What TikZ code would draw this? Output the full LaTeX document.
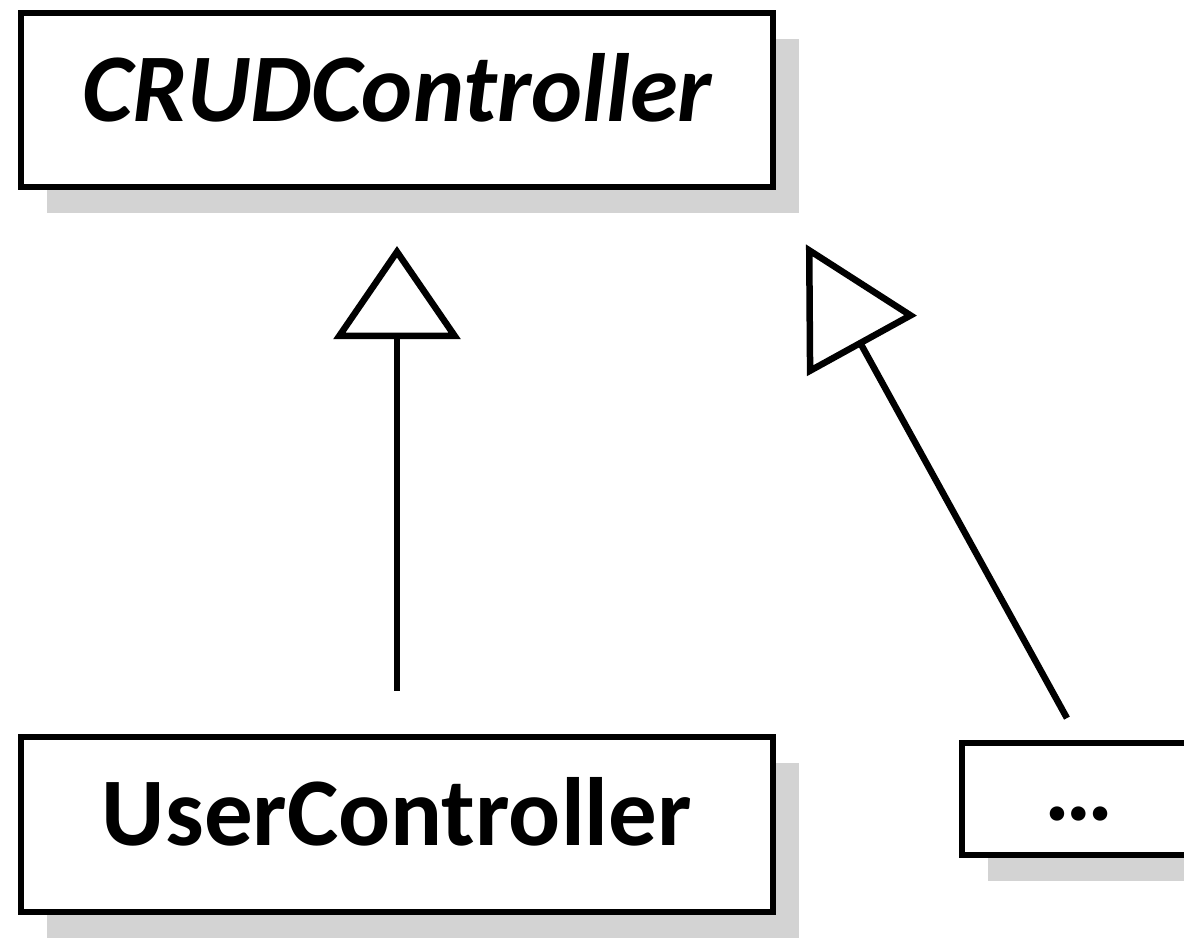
\documentclass[tikz,border=0pt]{standalone}
\usepackage{fontspec}
\setmainfont{Carlito}
\usepackage{tikz}
\usetikzlibrary{positioning,arrows.meta,shadows}

\definecolor{shadowgrey}{RGB}{211,211,211}

\tikzset{
  classbox/.style={draw, line width=6pt, fill=white, inner sep=0pt,
    text height=66pt, text depth=24pt,
    font=\fontsize{97}{104}\selectfont\bfseries,
    drop shadow={shadow xshift=26pt, shadow yshift=-26pt, fill=shadowgrey, opacity=1, rounded corners=10pt}},
  inherit/.style={line width=6.5pt, line join=round}
}

\begin{document}
\begin{tikzpicture}[x=1pt,y=-1pt]
\useasboundingbox (0,0) rectangle (1184,943);
\node [classbox, minimum width=752pt, minimum height=174pt] (crud) at (397,100) {\itshape CRUDController};
\node [classbox, below of=crud, node distance=724pt, minimum width=752pt, minimum height=175pt] (user) {UserController};
\node [classbox, right of=user, node distance=682pt, yshift=25pt, minimum width=234pt, minimum height=112pt] (more) {…};
\draw [inherit, -{Triangle[open, length=93pt, width=126pt, line width=6.5pt]}, shorten <=43pt, shorten >=56pt] (user.north) -- (crud.south);
\draw [inherit, -{Triangle[open, length=116pt, width=124pt, line width=6.5pt]}, shorten <=25pt, shorten >=62pt] (more.north) -- (crud.south east);
\end{tikzpicture}
\end{document}
